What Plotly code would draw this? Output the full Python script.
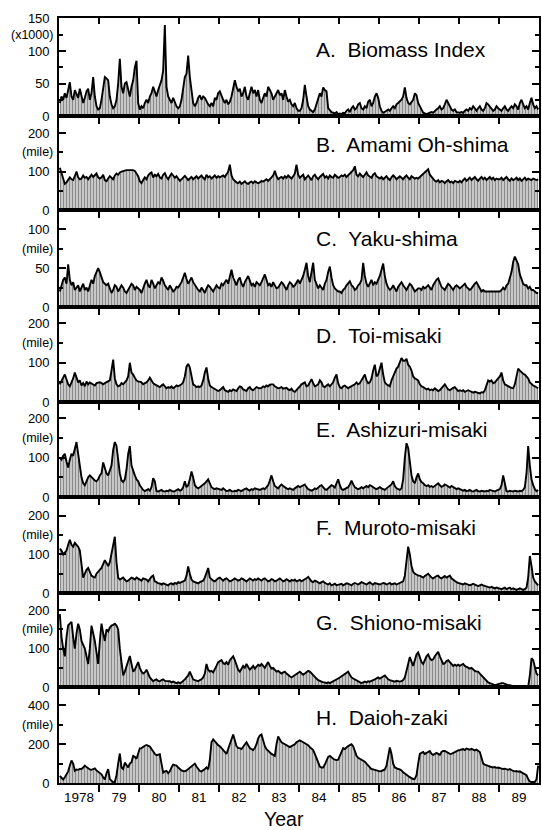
import plotly.graph_objects as go

# ---------------- data (semi-monthly values, 24 per year, 1978-1989) ----------------
years = list(range(1978, 1990))
year_labels = ["1978", "79", "80", "81", "82", "83", "84", "85", "86", "87", "88", "89"]

biomass = [
    20, 30, 25, 35, 28, 40, 52, 30, 25, 40, 35, 28, 42, 30, 20, 28, 38, 42, 25, 35, 60, 30, 15, 10,
    12, 25, 40, 60, 58, 55, 30, 18, 12, 15, 25, 50, 88, 45, 35, 50, 52, 40, 30, 45, 55, 75, 85, 20,
    10, 15, 12, 20, 25, 20, 30, 35, 45, 38, 30, 40, 48, 55, 70, 140, 45, 30, 25, 20, 28, 22, 15, 12,
    15, 25, 45, 60, 65, 93, 60, 35, 20, 15, 20, 28, 32, 25, 30, 28, 22, 18, 15, 20, 15, 28, 25, 35,
    38, 30, 25, 20, 25, 18, 22, 30, 45, 55, 45, 38, 42, 30, 35, 45, 30, 25, 35, 45, 35, 40, 30, 40,
    25, 20, 28, 35, 30, 45, 40, 35, 25, 30, 35, 40, 32, 35, 25, 40, 30, 22, 25, 18, 15, 20, 12, 8,
    8, 12, 25, 48, 30, 15, 10, 8, 6, 10, 18, 25, 35, 30, 44, 40, 38, 12, 8, 6, 5, 4, 6, 3,
    4, 3, 5, 4, 8, 10, 6, 12, 15, 10, 12, 18, 20, 12, 10, 15, 12, 22, 25, 15, 20, 30, 35, 28,
    15, 8, 5, 6, 8, 10, 8, 12, 15, 12, 18, 20, 22, 25, 30, 44, 28, 20, 18, 22, 25, 35, 32, 20,
    15, 8, 5, 4, 3, 4, 5, 6, 5, 8, 10, 12, 15, 10, 12, 18, 25, 20, 15, 10, 8, 10, 6, 5,
    5, 6, 5, 8, 10, 8, 12, 10, 15, 12, 8, 12, 15, 10, 8, 12, 20, 18, 15, 12, 8, 10, 15, 12,
    10, 8, 12, 15, 10, 8, 12, 15, 12, 18, 15, 10, 20, 25, 18, 12, 15, 10, 20, 28, 18, 12, 15, 10,
]

amami = [
    110, 95, 80, 68, 72, 78, 85, 80, 78, 88, 100, 85, 80, 82, 90, 84, 86, 80, 88, 92, 86, 90, 95, 85,
    82, 85, 92, 78, 75, 82, 88, 84, 80, 90, 95, 92, 98, 100, 102, 103, 104, 104, 104, 103, 104, 102, 95, 88,
    75, 70, 78, 85, 80, 90, 95, 98, 85, 92, 88, 94, 85, 82, 92, 96, 86, 80, 88, 95, 90, 84, 88, 80,
    76, 80, 85, 89, 84, 78, 82, 86, 80, 84, 88, 82, 86, 90, 84, 80, 92, 85, 88, 82, 86, 90, 84, 88,
    85, 88, 90, 86, 92, 100, 118, 90, 80, 75, 72, 70, 74, 68, 72, 75, 70, 68, 72, 74, 70, 75, 72, 70,
    72, 76, 74, 78, 80, 76, 82, 85, 90, 102, 88, 80, 84, 86, 82, 88, 84, 90, 86, 82, 88, 95, 118, 92,
    84, 88, 92, 80, 86, 90, 84, 78, 88, 92, 85, 80, 86, 90, 94, 84, 88, 82, 90, 86, 84, 92, 88, 84,
    86, 90, 88, 92, 86, 90, 94, 98, 104, 114, 92, 88, 95, 90, 86, 92, 98, 90, 88, 84, 92, 96, 88, 84,
    82, 86, 80, 84, 88, 82, 78, 85, 90, 86, 80, 84, 88, 84, 80, 86, 90, 84, 80, 88, 86, 82, 84, 82,
    86, 90, 94, 96, 100, 106, 92, 86, 80, 76, 74, 78, 72, 76, 74, 70, 75, 78, 72, 74, 70, 76, 74, 72,
    76, 72, 78, 82, 76, 80, 84, 78, 82, 86, 80, 76, 82, 86, 80, 84, 78, 82, 86, 80, 84, 78, 82, 80,
    80, 84, 78, 82, 86, 80, 76, 82, 78, 80, 84, 78, 82, 76, 80, 84, 78, 82, 80, 78, 82, 80, 78, 80,
]

yaku = [
    20, 28, 35, 38, 30, 55, 35, 28, 32, 22, 25, 28, 20, 24, 30, 22, 25, 20, 28, 35, 30, 40, 45, 50,
    45, 38, 32, 30, 28, 30, 25, 18, 22, 28, 26, 20, 24, 28, 25, 20, 18, 22, 25, 30, 28, 22, 26, 24,
    22, 18, 25, 30, 35, 28, 25, 35, 30, 24, 28, 32, 30, 38, 34, 28, 25, 22, 28, 24, 20, 22, 26, 25,
    28, 32, 38, 44, 36, 30, 34, 38, 32, 28, 24, 22, 20, 25, 22, 18, 24, 28, 26, 22, 20, 24, 28, 25,
    24, 30, 28, 32, 35, 30, 40, 48, 38, 32, 28, 35, 38, 30, 26, 32, 36, 40, 34, 28, 30, 26, 32, 30,
    28, 32, 36, 42, 35, 28, 30, 26, 32, 28, 24, 25, 28, 32, 30, 26, 22, 28, 32, 30, 26, 28, 32, 35,
    30, 35, 40, 48, 57, 40, 32, 45, 57, 35, 28, 24, 28, 25, 22, 30, 35, 45, 52, 38, 28, 24, 22, 20,
    20, 18, 22, 24, 28, 30, 33, 28, 26, 22, 24, 28, 30, 35, 57, 40, 30, 26, 30, 35, 28, 32, 30, 35,
    40, 48, 56, 40, 30, 25, 22, 24, 28, 24, 20, 26, 30, 32, 28, 24, 22, 26, 30, 28, 24, 20, 22, 24,
    24, 22, 26, 24, 26, 28, 25, 22, 28, 32, 35, 37, 30, 26, 24, 22, 26, 30, 28, 24, 22, 26, 28, 26,
    24, 26, 28, 30, 26, 24, 22, 24, 28, 30, 32, 28, 24, 20, 22, 20, 20, 20, 20, 20, 20, 20, 20, 20,
    20, 22, 25, 22, 28, 30, 38, 45, 58, 65, 60, 55, 42, 35, 30, 28, 28, 24, 26, 22, 22, 20, 18, 18,
]

toi = [
    45, 55, 62, 70, 55, 45, 40, 50, 60, 75, 60, 50, 55, 42, 48, 40, 52, 45, 50, 48, 45, 42, 48, 50,
    50, 48, 45, 48, 50, 52, 55, 80, 108, 60, 45, 40, 42, 48, 45, 50, 55, 65, 100, 75, 70, 62, 55, 52,
    52, 50, 45, 48, 50, 55, 62, 55, 48, 45, 42, 40, 38, 42, 45, 40, 35, 38, 36, 40, 35, 38, 42, 40,
    42, 45, 50, 65, 90, 97, 88, 70, 45, 42, 38, 40, 38, 42, 55, 75, 88, 60, 42, 38, 35, 32, 30, 28,
    30, 35, 38, 30, 28, 26, 30, 28, 32, 30, 28, 35, 40, 38, 32, 30, 28, 35, 38, 32, 30, 34, 38, 36,
    35, 36, 40, 38, 42, 40, 44, 45, 45, 40, 38, 35, 36, 38, 34, 35, 36, 32, 30, 34, 28, 26, 30, 35,
    40, 45, 48, 50, 40, 42, 50, 58, 48, 40, 42, 45, 55, 50, 40, 38, 42, 45, 40, 44, 50, 62, 70, 48,
    38, 35, 40, 42, 38, 35, 38, 40, 42, 45, 50, 45, 48, 55, 60, 70, 55, 48, 50, 60, 80, 95, 65, 70,
    85, 100, 70, 50, 45, 42, 40, 55, 65, 75, 85, 90, 100, 112, 105, 105, 110, 95, 90, 80, 65, 60, 58, 55,
    45, 40, 38, 35, 32, 34, 30, 32, 30, 35, 32, 28, 30, 35, 40, 45, 38, 32, 30, 34, 36, 38, 32, 28,
    30, 28, 30, 26, 28, 30, 28, 25, 24, 26, 25, 24, 22, 25, 24, 30, 45, 55, 52, 55, 48, 50, 55, 60,
    65, 75, 55, 45, 42, 40, 38, 36, 35, 45, 70, 85, 80, 75, 72, 70, 65, 60, 50, 45, 42, 40, 38, 35,
]

ashizuri = [
    100, 95, 105, 110, 90, 75, 95, 110, 105, 120, 140, 110, 80, 50, 35, 30, 40, 50, 55, 50, 45, 42, 40, 45,
    55, 60, 88, 70, 60, 55, 65, 80, 120, 140, 130, 90, 60, 42, 38, 45, 70, 110, 130, 80, 65, 55, 45, 40,
    30, 22, 18, 15, 18, 20, 16, 25, 48, 40, 15, 14, 16, 18, 15, 14, 16, 15, 18, 16, 14, 15, 18, 20,
    16, 18, 25, 40, 25, 30, 45, 65, 50, 30, 25, 22, 25, 28, 30, 35, 40, 45, 35, 25, 22, 20, 22, 20,
    20, 18, 22, 18, 15, 16, 18, 15, 14, 16, 15, 18, 16, 15, 18, 20, 22, 18, 16, 20, 18, 22, 20, 18,
    18, 20, 22, 20, 25, 30, 42, 55, 40, 28, 25, 22, 28, 32, 28, 24, 22, 20, 22, 20, 18, 22, 25, 28,
    25, 28, 30, 32, 25, 20, 18, 16, 18, 22, 20, 25, 28, 30, 25, 20, 18, 22, 25, 30, 28, 24, 35, 45,
    30, 20, 18, 20, 22, 25, 32, 42, 32, 25, 22, 20, 22, 25, 22, 24, 28, 25, 30, 28, 24, 22, 20, 22,
    25, 22, 20, 18, 22, 25, 28, 32, 40, 28, 22, 20, 18, 22, 45, 100, 137, 125, 80, 55, 40, 35, 50, 60,
    45, 38, 35, 30, 28, 30, 26, 28, 25, 28, 32, 35, 30, 26, 28, 32, 30, 26, 24, 28, 25, 22, 20, 22,
    20, 18, 16, 18, 15, 16, 18, 15, 14, 16, 18, 15, 14, 16, 15, 14, 16, 15, 18, 16, 15, 14, 16, 18,
    20, 30, 55, 35, 15, 14, 16, 15, 14, 16, 15, 14, 16, 15, 18, 25, 60, 130, 80, 45, 30, 20, 15, 18,
]

muroto = [
    115, 110, 100, 105, 110, 125, 138, 125, 120, 130, 125, 120, 110, 70, 40, 50, 60, 65, 55, 45, 42, 40, 50, 55,
    60, 65, 75, 85, 78, 70, 80, 100, 120, 146, 80, 40, 35, 38, 40, 35, 30, 32, 36, 40, 38, 35, 40, 38,
    35, 32, 38, 36, 35, 30, 38, 42, 45, 30, 28, 25, 25, 22, 25, 24, 22, 20, 24, 25, 22, 26, 24, 28,
    26, 28, 30, 32, 45, 69, 50, 35, 30, 28, 26, 25, 28, 30, 32, 40, 55, 65, 40, 35, 32, 30, 35, 38,
    40, 35, 32, 36, 38, 34, 30, 32, 36, 38, 35, 32, 34, 38, 36, 32, 30, 34, 38, 35, 32, 36, 34, 38,
    35, 32, 36, 38, 34, 30, 32, 36, 34, 30, 32, 35, 38, 34, 30, 32, 36, 33, 30, 34, 32, 35, 30, 32,
    34, 30, 32, 35, 38, 42, 35, 30, 28, 32, 30, 28, 25, 28, 30, 26, 24, 22, 25, 20, 22, 24, 20, 22,
    22, 24, 20, 22, 25, 24, 22, 20, 24, 26, 24, 22, 25, 28, 26, 24, 22, 25, 28, 24, 22, 26, 25, 24,
    22, 24, 26, 25, 22, 24, 26, 22, 24, 25, 22, 24, 25, 28, 30, 45, 80, 120, 100, 70, 55, 50, 48, 45,
    45, 42, 40, 44, 46, 50, 45, 40, 38, 42, 44, 45, 40, 38, 42, 44, 40, 42, 45, 38, 34, 30, 28, 26,
    25, 24, 22, 25, 24, 22, 20, 22, 24, 22, 20, 18, 20, 22, 20, 18, 16, 15, 14, 16, 14, 12, 14, 12,
    12, 10, 12, 14, 10, 12, 14, 10, 12, 10, 8, 10, 12, 10, 8, 10, 14, 40, 96, 70, 40, 30, 25, 20,
]

shiono = [
    190, 130, 100, 80, 130, 161, 165, 170, 130, 100, 140, 165, 150, 120, 110, 100, 80, 60, 100, 160, 140, 120, 90, 60,
    120, 165, 140, 120, 150, 145, 155, 160, 162, 165, 160, 150, 100, 60, 30, 40, 55, 70, 81, 60, 40, 45, 55, 65,
    50, 40, 35, 38, 45, 35, 25, 20, 15, 18, 20, 16, 15, 18, 20, 16, 15, 14, 15, 12, 14, 12, 10, 12,
    10, 12, 15, 20, 25, 30, 40, 30, 20, 18, 16, 15, 18, 20, 25, 35, 60, 45, 40, 42, 38, 45, 55, 65,
    68, 70, 62, 60, 65, 58, 70, 75, 80, 70, 55, 45, 40, 48, 55, 50, 60, 52, 45, 50, 55, 48, 52, 58,
    55, 60, 55, 50, 58, 65, 55, 48, 50, 45, 40, 42, 38, 35, 38, 40, 35, 30, 28, 25, 28, 30, 35, 38,
    40, 36, 32, 35, 38, 42, 40, 35, 30, 25, 22, 18, 15, 14, 12, 12, 10, 12, 10, 12, 15, 18, 20, 22,
    25, 28, 30, 35, 38, 40, 32, 25, 22, 20, 18, 15, 12, 10, 12, 14, 12, 15, 14, 15, 18, 20, 22, 25,
    22, 25, 28, 30, 25, 20, 18, 16, 15, 14, 16, 15, 14, 15, 18, 25, 40, 60, 78, 65, 55, 70, 85, 90,
    75, 65, 60, 70, 80, 85, 75, 70, 72, 80, 88, 92, 80, 70, 60, 62, 68, 70, 65, 60, 55, 58, 55, 58,
    55, 58, 60, 55, 52, 50, 48, 50, 45, 42, 40, 40, 35, 30, 25, 20, 15, 12, 10, 8, 6, 5, 6, 8,
    8, 10, 10, 8, 6, 5, 5, 4, 2, 0, 0, 0, 0, 0, 0, 0, 0, 0, 30, 75, 70, 50, 35, 30,
]

daioh = [
    36, 25, 18, 30, 45, 60, 90, 116, 100, 63, 70, 68, 72, 72, 80, 90, 82, 75, 70, 68, 72, 75, 65, 57,
    50, 45, 30, 18, 50, 72, 20, 9, 4, 5, 40, 100, 152, 80, 72, 105, 90, 80, 100, 107, 140, 135, 125, 150,
    179, 180, 188, 192, 196, 192, 188, 175, 161, 150, 143, 145, 148, 100, 54, 60, 63, 50, 60, 80, 95, 92, 90, 80,
    70, 65, 62, 60, 65, 72, 80, 90, 95, 100, 85, 70, 62, 60, 65, 72, 80, 70, 120, 210, 225, 215, 200, 195,
    190, 180, 170, 160, 150, 175, 200, 230, 250, 220, 190, 180, 180, 175, 185, 200, 210, 195, 180, 175, 170, 180, 200, 230,
    245, 250, 220, 190, 175, 165, 155, 150, 145, 140, 200, 240, 225, 210, 205, 200, 195, 190, 185, 190, 195, 200, 210, 215,
    220, 215, 210, 205, 200, 195, 185, 175, 170, 150, 125, 100, 85, 80, 80, 95, 120, 135, 140, 130, 125, 120, 118, 120,
    140, 160, 180, 175, 185, 190, 195, 200, 190, 160, 140, 130, 125, 120, 115, 110, 100, 90, 80, 72, 70, 68, 65, 62,
    60, 62, 65, 70, 90, 140, 183, 150, 100, 80, 75, 72, 70, 65, 55, 48, 40, 35, 30, 25, 20, 22, 40, 100,
    150, 155, 160, 150, 155, 160, 165, 150, 145, 150, 155, 150, 145, 160, 165, 165, 160, 155, 150, 150, 155, 160, 165, 168,
    170, 172, 175, 170, 178, 175, 172, 176, 170, 168, 172, 165, 160, 130, 100, 95, 90, 88, 85, 82, 80, 82, 78, 80,
    78, 75, 72, 74, 70, 68, 72, 65, 62, 60, 62, 58, 60, 55, 50, 45, 40, 20, 8, 5, 4, 5, 20, 90,
]

panel_titles = ["A.\u00a0 Biomass Index", "B.\u00a0 Amami Oh-shima", "C.\u00a0 Yaku-shima",
                "D.\u00a0 Toi-misaki", "E.\u00a0 Ashizuri-misaki", "F.\u00a0 Muroto-misaki",
                "G.\u00a0 Shiono-misaki", "H.\u00a0 Daioh-zaki"]
series = [biomass, amami, yaku, toi, ashizuri, muroto, shiono, daioh]
y_tops = [151, 245, 125, 242, 242, 249, 245, 495]
major_ticks = [[0, 50, 100, 150], [0, 100, 200], [0, 50, 100], [0, 100, 200],
               [0, 100, 200], [0, 100, 200], [0, 100, 200], [0, 200, 400]]
minor_ticks = [[25, 75, 125], [50, 150], [25, 75], [50, 150],
               [50, 150], [50, 150], [50, 150], [100, 300]]
unit_labels = ["(x1000)", "(mile)", "(mile)", "(mile)", "(mile)", "(mile)", "(mile)", "(mile)"]
unit_pos = [125, 150, 75, 150, 150, 150, 150, 300]

# ---------------- layout geometry ----------------
W, H = 542, 830
top_px, bot_px = 18, 783
left_px, right_px = 59, 539
borders = [18, 116, 210, 307, 402, 497, 593, 687, 783]
title_offsets = [32, 28, 28, 28, 27, 30, 29, 30]
plot_h = bot_px - top_px
plot_w = right_px - left_px

x_time = [1978 + (i + 0.5) / 24 for i in range(len(biomass))]

FONT = "Liberation Sans, Arial, Helvetica, sans-serif"
fig = go.Figure()

for k, vals in enumerate(series):
    ax = "" if k == 0 else str(k + 1)
    fig.add_trace(go.Scatter(
        x=x_time, y=vals, mode="lines",
        line=dict(color="black", width=1.9),
        fill="tozeroy", fillcolor="rgba(0,0,0,0)",
        fillpattern=dict(shape="|", size=3, solidity=0.55, fgcolor="#2a2a2a", bgcolor="#e6e6e6"),
        xaxis="x" + ax, yaxis="y" + ax, showlegend=False, hoverinfo="skip",
    ))

# helper trace so that the top tick axis of panel A is drawn
fig.add_trace(go.Scatter(x=[1978], y=[0], mode="markers", marker=dict(opacity=0, size=1),
                         xaxis="x9", yaxis="y", showlegend=False, hoverinfo="skip"))

layout = dict(
    width=W, height=H,
    margin=dict(l=left_px, r=W - right_px, t=top_px, b=H - bot_px, autoexpand=False),
    paper_bgcolor="white", plot_bgcolor="white",
    font=dict(family=FONT, color="black", size=12),
    showlegend=False,
)

annotations = []
boundaries = years[1:]
for k in range(8):
    ax = "" if k == 0 else str(k + 1)
    d0 = (bot_px - borders[k + 1]) / plot_h
    d1 = (bot_px - borders[k]) / plot_h
    xa = dict(
        domain=[0, 1], range=[1978, 1990], anchor="y" + ax, automargin=False,
        showline=True, linecolor="black", linewidth=1.6, mirror=True,
        showgrid=False, zeroline=False, fixedrange=True,
    )
    if k < 7:
        xa.update(tickmode="array", tickvals=boundaries, ticks="outside", ticklen=6,
                  tickwidth=1.5, tickcolor="black", showticklabels=False)
    else:
        xa.update(tickmode="array", tickvals=[y + 0.5 for y in years], ticktext=year_labels,
                  ticks="", showticklabels=True, ticklabelstandoff=1,
                  tickfont=dict(family=FONT, size=13.5, color="black"),
                  minor=dict(tickmode="array", tickvals=boundaries, ticks="outside", ticklen=7,
                             tickwidth=1.5, tickcolor="black", showgrid=False))
    ya = dict(
        domain=[d0, d1], range=[0, y_tops[k]], anchor="x" + ax, automargin=False,
        showline=True, linecolor="black", linewidth=1.6, mirror="ticks",
        showgrid=False, zeroline=False, fixedrange=True,
        tickmode="array", tickvals=major_ticks[k], ticks="inside", ticklen=7,
        tickwidth=1.5, tickcolor="black", ticklabelstandoff=5,
        tickfont=dict(family=FONT, size=13, color="black"),
        minor=dict(tickmode="array", tickvals=minor_ticks[k], ticks="inside", ticklen=4,
                   tickwidth=1.5, tickcolor="black", showgrid=False),
    )
    layout["xaxis" + ax] = xa
    layout["yaxis" + ax] = ya

    annotations.append(dict(
        text=panel_titles[k], xref="paper", yref="y" + ax + " domain",
        x=(314 - left_px) / plot_w, y=1 - title_offsets[k] / (borders[k + 1] - borders[k]),
        xanchor="left", yanchor="middle", showarrow=False,
        font=dict(family=FONT, size=21, color="black"),
    ))
    annotations.append(dict(
        text=unit_labels[k], xref="paper", yref="y" + ax,
        x=0, y=unit_pos[k], xanchor="right", yanchor="middle", xshift=-4,
        showarrow=False, font=dict(family=FONT, size=12.5, color="black"),
    ))

layout["xaxis9"] = dict(
    overlaying="x", side="top", anchor="y", range=[1978, 1990], automargin=False,
    tickmode="array", tickvals=boundaries, ticks="inside", ticklen=6, tickwidth=1.5,
    tickcolor="black", showticklabels=False, showline=False, showgrid=False,
    zeroline=False, fixedrange=True,
)

annotations.append(dict(
    text="Year", xref="paper", yref="paper", x=(284 - left_px) / plot_w,
    y=-(819 - bot_px) / plot_h,
    xanchor="center", yanchor="middle", showarrow=False,
    font=dict(family=FONT, size=19.5, color="black"),
))
layout["annotations"] = annotations

fig.update_layout(**layout)
fig.write_html(
    "out.html",
    config={"displayModeBar": False},
    post_script="document.body.style.margin='0';document.body.style.padding='0';"
                "document.body.style.overflow='hidden';",
)
